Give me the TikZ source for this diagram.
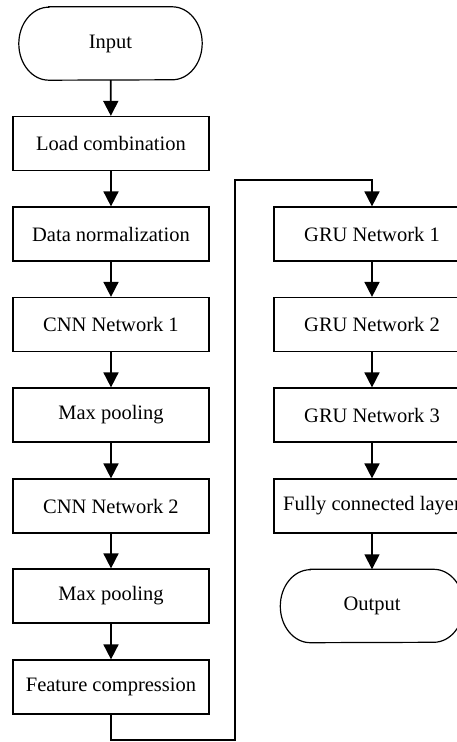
\documentclass[tikz,border=0pt]{standalone}
\usepackage{fontspec}
\setmainfont{Liberation Serif}
\usetikzlibrary{arrows.meta}
\begin{document}
\begin{tikzpicture}[x=1pt,y=1pt,
  every node/.style={font=\fontsize{20.5}{24}\selectfont, inner sep=0pt},
  stepbox/.style={draw, line width=1.2pt, minimum width=196pt, minimum height=54pt},
  term/.style={minimum width=183pt, minimum height=73pt},
  termline/.style={line width=1.2pt},
  arr/.style={line width=1.7pt, -{Triangle[length=15pt,width=15pt]}}
]
\useasboundingbox (0,0) rectangle (457,742);
% left column
\node[term] (in) at (110.5,698.5) {Input};
\node[stepbox] (lc) at (111,598.5) {Load combination};
\node[stepbox] (dn) at (111,508) {Data normalization};
\node[stepbox] (c1) at (111,417.5) {CNN Network 1};
\node[stepbox] (m1) at (111,327) {Max pooling};
\node[stepbox] (c2) at (111,236) {CNN Network 2};
\node[stepbox] (m2) at (111,146) {Max pooling};
\node[stepbox] (fc) at (111,55) {Feature compression};
% right column
\node[stepbox] (g1) at (372,508) {GRU Network 1};
\node[stepbox] (g2) at (372,417.5) {GRU Network 2};
\node[stepbox] (g3) at (372,327) {GRU Network 3};
\node[stepbox] (fl) at (372,236) {Fully connected layer};
\node[term] (out) at (372,136) {Output};
% terminal outlines
\foreach \n in {in,out}{
  \draw[termline] ([xshift=30pt]\n.north west) -- ([xshift=-30pt]\n.north east)
    arc[start angle=90,end angle=-90,x radius=30pt,y radius=36.5pt]
    -- ([xshift=30pt]\n.south west)
    arc[start angle=270,end angle=90,x radius=30pt,y radius=36.5pt] -- cycle;
}
% connectors
\draw[arr] (in) -- (lc);
\draw[arr] (lc) -- (dn);
\draw[arr] (dn) -- (c1);
\draw[arr] (c1) -- (m1);
\draw[arr] (m1) -- (c2);
\draw[arr] (c2) -- (m2);
\draw[arr] (m2) -- (fc);
\coordinate (b1) at (235,2);
\coordinate (b2) at (235,562);
\draw[arr] (fc.south) |- (b1) -- (b2) -| (g1.north);
\draw[arr] (g1) -- (g2);
\draw[arr] (g2) -- (g3);
\draw[arr] (g3) -- (fl);
\draw[arr] (fl) -- (out);
\end{tikzpicture}
\end{document}
